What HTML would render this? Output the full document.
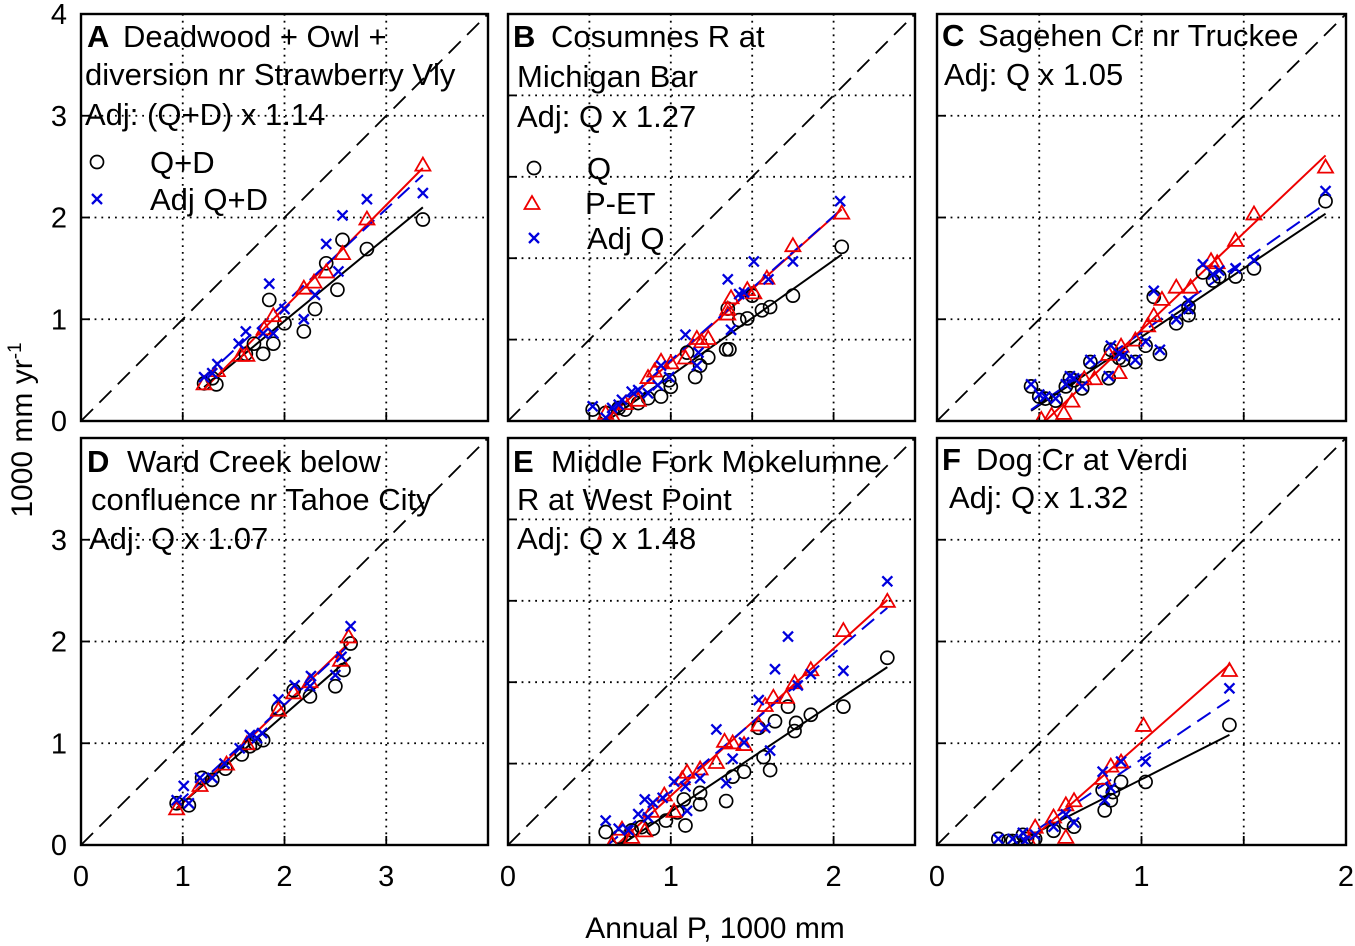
<!DOCTYPE html>
<html><head><meta charset="utf-8"><style>
html,body{margin:0;padding:0;background:#fff;}
svg{display:block;font-family:"Liberation Sans",Arial,sans-serif;}
</style></head><body>
<svg id="chart" width="1355" height="946" viewBox="0 0 1355 946"></svg>
<script>
// ---- data (x = annual P, y = 1000 mm/yr) ----
const aQ=[[3.36,1.98],[2.81,1.69],[2.57,1.78],[2.52,1.29],[2.41,1.55],[2.30,1.10],[2.19,0.88],[2.0,0.96],[1.85,1.19],[1.89,0.76],[1.79,0.66],[1.70,0.76],[1.33,0.36],[1.21,0.37],[1.62,0.66],[1.29,0.42]];
const aAdj=[[3.36,2.24],[2.81,2.18],[2.57,2.02],[2.41,1.74],[2.53,1.47],[2.30,1.24],[2.19,1.0],[2.0,1.1],[1.85,1.35],[1.89,0.86],[1.79,0.86],[1.62,0.88],[1.55,0.76],[1.34,0.56],[1.21,0.43],[1.29,0.47]];
const aPET=[[3.36,2.52],[2.81,1.99],[2.57,1.65],[2.41,1.47],[2.29,1.37],[2.19,1.31],[1.89,1.04],[1.80,0.91],[1.63,0.65],[1.57,0.65],[1.21,0.37],[1.34,0.5]];
const bQ=[[2.05,1.07],[1.75,0.77],[1.61,0.70],[1.56,0.68],[1.47,0.63],[1.42,0.62],[1.5,0.77],[1.35,0.69],[1.36,0.44],[1.34,0.44],[1.23,0.39],[1.18,0.34],[1.15,0.27],[1.10,0.42],[0.99,0.25],[0.94,0.15],[0.86,0.14],[0.80,0.11],[0.72,0.07],[0.6,0.05],[0.52,0.07],[0.68,0.08],[1.0,0.21]];
const bAdj=[[2.04,1.35],[1.75,0.98],[1.51,0.98],[1.60,0.87],[1.45,0.79],[1.42,0.78],[1.35,0.87],[1.37,0.56],[1.17,0.42],[1.16,0.34],[1.09,0.53],[0.99,0.27],[0.94,0.34],[0.92,0.22],[0.86,0.17],[0.80,0.19],[0.76,0.18],[0.70,0.13],[0.64,0.08],[0.52,0.09],[0.6,0.02],[0.68,0.1]];
const bPET=[[2.05,1.28],[1.75,1.08],[1.59,0.88],[1.51,0.79],[1.47,0.81],[1.37,0.76],[1.35,0.69],[1.35,0.66],[1.23,0.51],[1.16,0.51],[1.19,0.49],[1.09,0.39],[1.0,0.36],[0.94,0.37],[0.90,0.31],[0.86,0.27],[0.80,0.13],[0.72,0.11],[0.65,0.02],[0.6,0.05]];
const cQ=[[1.90,1.08],[1.55,0.75],[1.46,0.71],[1.38,0.71],[1.35,0.69],[1.30,0.73],[1.23,0.52],[1.23,0.56],[1.17,0.48],[1.09,0.33],[1.06,0.61],[1.02,0.37],[0.97,0.29],[0.91,0.30],[0.84,0.21],[0.85,0.35],[0.75,0.29],[0.71,0.16],[0.65,0.21],[0.63,0.17],[0.58,0.10],[0.53,0.11],[0.50,0.12],[0.46,0.17],[0.67,0.20],[0.89,0.31]];
const cAdj=[[1.90,1.13],[1.55,0.79],[1.46,0.75],[1.38,0.74],[1.35,0.72],[1.30,0.77],[1.23,0.55],[1.23,0.59],[1.17,0.50],[1.09,0.35],[1.06,0.64],[1.02,0.39],[0.97,0.30],[0.91,0.32],[0.84,0.22],[0.85,0.37],[0.75,0.30],[0.71,0.17],[0.65,0.22],[0.63,0.18],[0.58,0.11],[0.53,0.12],[0.50,0.13],[0.46,0.18],[0.67,0.21],[0.89,0.33]];
const cPET=[[1.90,1.25],[1.55,1.02],[1.46,0.89],[1.37,0.78],[1.34,0.79],[1.24,0.66],[1.17,0.66],[1.10,0.60],[1.06,0.52],[1.03,0.47],[0.97,0.40],[0.90,0.37],[0.89,0.24],[0.84,0.33],[0.77,0.21],[0.72,0.21],[0.66,0.10],[0.62,0.04],[0.56,0.03],[0.51,0.01]];
const dQ=[[2.65,1.98],[2.58,1.72],[2.50,1.56],[2.25,1.46],[2.09,1.52],[1.94,1.34],[1.79,1.03],[1.71,1.0],[1.66,0.97],[1.58,0.89],[1.42,0.75],[1.29,0.64],[1.19,0.66],[1.06,0.39],[0.94,0.41]];
const dAdj=[[2.65,2.15],[2.56,1.85],[2.50,1.67],[2.26,1.66],[2.25,1.56],[2.10,1.57],[1.94,1.43],[1.78,1.10],[1.66,1.08],[1.73,1.05],[1.56,0.95],[1.41,0.80],[1.29,0.66],[1.17,0.66],[1.01,0.58],[0.94,0.44],[1.06,0.41]];
const dPET=[[2.63,2.05],[1.94,1.33],[2.09,1.50],[1.63,1.0],[1.17,0.59],[0.94,0.36],[1.43,0.80],[2.25,1.61],[2.55,1.82]];
const eQ=[[2.33,1.15],[2.06,0.85],[1.86,0.80],[1.76,0.70],[1.77,0.75],[1.72,0.85],[1.64,0.76],[1.54,0.72],[1.61,0.46],[1.57,0.54],[1.45,0.45],[1.38,0.42],[1.34,0.27],[1.18,0.32],[1.18,0.25],[1.09,0.12],[1.08,0.28],[0.97,0.15],[0.89,0.10],[0.82,0.11],[0.76,0.09],[0.68,0.05],[0.60,0.08],[1.04,0.2]];
const eAdj=[[2.33,1.62],[2.06,1.07],[1.72,1.28],[1.64,1.08],[1.86,1.05],[1.78,0.98],[1.54,0.89],[1.58,0.72],[1.61,0.58],[1.45,0.63],[1.28,0.71],[1.38,0.53],[1.34,0.38],[1.18,0.41],[1.10,0.21],[1.02,0.39],[1.09,0.36],[0.95,0.29],[0.89,0.26],[0.84,0.28],[0.80,0.19],[0.74,0.09],[0.68,0.10],[0.60,0.15],[0.86,0.17]];
const ePET=[[2.33,1.50],[2.06,1.32],[1.86,1.08],[1.76,1.00],[1.71,0.91],[1.63,0.91],[1.58,0.86],[1.54,0.74],[1.45,0.62],[1.38,0.63],[1.33,0.64],[1.28,0.51],[1.18,0.47],[1.10,0.45],[1.07,0.41],[1.02,0.21],[0.96,0.31],[0.88,0.21],[0.84,0.09],[0.76,0.05],[0.70,0.10],[0.64,0.01]];
const fQ=[[1.43,0.59],[1.02,0.31],[0.90,0.31],[0.86,0.26],[0.85,0.22],[0.82,0.17],[0.81,0.27],[0.67,0.09],[0.63,0.11],[0.57,0.07],[0.48,0.03],[0.42,0.05],[0.37,0.02],[0.30,0.03],[0.35,0.02],[0.44,0.03]];
const fAdj=[[1.43,0.77],[1.02,0.41],[0.90,0.41],[0.81,0.36],[0.82,0.22],[0.85,0.28],[0.67,0.11],[0.63,0.15],[0.57,0.09],[0.48,0.05],[0.42,0.06],[0.37,0.03],[0.30,0.03],[0.43,0.02]];
const fPET=[[1.43,0.86],[1.01,0.59],[0.90,0.41],[0.85,0.39],[0.81,0.33],[0.67,0.22],[0.63,0.20],[0.63,0.04],[0.57,0.14],[0.48,0.09],[0.45,0.02]];
const rowYTicks1=["0","1","2","3","4"];
const rowYTicks2=["0","1","2","3"];
const xTicksAD=["0","1","2","3"];
const xTicksBE=["0","1","2"];
const xTicksCF=["0","1","2"];

const NS="http://www.w3.org/2000/svg";
const svg=document.getElementById('chart');
function mk(tag,attrs,parent){const e=document.createElementNS(NS,tag);for(const k in attrs)e.setAttribute(k,attrs[k]);(parent||svg).appendChild(e);return e;}

const panels=[
 {id:'a',x0:81,y0:14,w:407,h:407,max:4,grid:1,q:aQ,adj:aAdj,pet:aPET,
  lines:[["A","Deadwood + Owl +",87,123,47],["","diversion nr Strawberry Vly",85,85,85],["","Adj: (Q+D) x 1.14",85,85,125]],
  legend:[["circle","Q+D",97,162],["cross","Adj Q+D",97,199]]},
 {id:'b',x0:508,y0:14,w:407,h:407,max:2.5,grid:0.5,q:bQ,adj:bAdj,pet:bPET,
  lines:[["B","Cosumnes R at",513,551,47],["","Michigan Bar",517,517,87],["","Adj: Q x 1.27",517,517,127]],
  legend:[["circle","Q",534,168],["tri","P-ET",532,203],["cross","Adj Q",534,238]]},
 {id:'c',x0:937,y0:14,w:409,h:407,max:2,grid:0.5,q:cQ,adj:cAdj,pet:cPET,
  lines:[["C","Sagehen Cr nr Truckee",942,978,46],["","Adj: Q x 1.05",944,944,85]],legend:[]},
 {id:'d',x0:81,y0:438,w:407,h:407,max:4,grid:1,q:dQ,adj:dAdj,pet:dPET,
  lines:[["D","Ward Creek below",87,127,472],["","confluence nr Tahoe City",91,91,510],["","Adj: Q x 1.07",89,89,549]],legend:[]},
 {id:'e',x0:508,y0:438,w:407,h:407,max:2.5,grid:0.5,q:eQ,adj:eAdj,pet:ePET,
  lines:[["E","Middle Fork Mokelumne",513,551,472],["","R at West Point",517,517,510],["","Adj: Q x 1.48",517,517,549]],legend:[]},
 {id:'f',x0:937,y0:438,w:409,h:407,max:2,grid:0.5,q:fQ,adj:fAdj,pet:fPET,
  lines:[["F","Dog Cr at Verdi",942,976,470],["","Adj: Q x 1.32",949,949,508]],legend:[]}
];

function marker(kind,cx,cy,g){
  let e;
  if(kind==='circle'){e=mk('circle',{cx,cy,r:6.5,fill:'none',stroke:'#000','stroke-width':1.7},g);}
  else if(kind==='tri'){e=mk('polygon',{points:`${cx},${cy-7} ${cx-7.5},${cy+6} ${cx+7.5},${cy+6}`,fill:'none',stroke:'#e00','stroke-width':1.8},g);}
  else {e=mk('path',{d:`M${cx-5},${cy-5}L${cx+5},${cy+5}M${cx-5},${cy+5}L${cx+5},${cy-5}`,stroke:'#00d','stroke-width':2.3,fill:'none'},g);}
  return e;
}
function fit(pts){let n=pts.length,sx=0,sy=0,sxx=0,sxy=0,mn=1e9,mx=-1e9;
  pts.forEach(p=>{sx+=p[0];sy+=p[1];sxx+=p[0]*p[0];sxy+=p[0]*p[1];mn=Math.min(mn,p[0]);mx=Math.max(mx,p[0]);});
  const b=(n*sxy-sx*sy)/(n*sxx-sx*sx),a=(sy-b*sx)/n;return {a,b,mn,mx};}

panels.forEach(p=>{
  const g=mk('g',{});
  
  
  const X=v=>p.x0+v/p.max*p.w, Y=v=>p.y0+p.h-v/p.max*p.h;
  const cp=mk('clipPath',{id:'clip-'+p.id},g);mk('rect',{x:p.x0,y:p.y0,width:p.w,height:p.h},cp);
  for(let v=p.grid;v<p.max-1e-6;v+=p.grid){
    const gv=mk('line',{x1:X(v),x2:X(v),y1:p.y0,y2:p.y0+p.h,stroke:'#000','stroke-width':1.8,'stroke-dasharray':'1.8 5'},g);
    
    const gh=mk('line',{x1:p.x0,x2:p.x0+p.w,y1:Y(v),y2:Y(v),stroke:'#000','stroke-width':1.8,'stroke-dasharray':'1.8 5'},g);
    
    mk('line',{x1:X(v),x2:X(v),y1:p.y0+p.h,y2:p.y0+p.h-9,stroke:'#000','stroke-width':1.8},g);
    mk('line',{x1:p.x0,x2:p.x0+9,y1:Y(v),y2:Y(v),stroke:'#000','stroke-width':1.8},g);
  }
  const d=mk('line',{x1:X(0),y1:Y(0),x2:X(p.max),y2:Y(p.max),stroke:'#000','stroke-width':1.8,'stroke-dasharray':'17 9'},g);
  
  const dg=mk('g',{'clip-path':`url(#clip-${p.id})`},g);
  [[p.q,'#000',null,'fit-line-q'],[p.pet,'#e00',null,'fit-line-pet'],[p.adj,'#00d','16 8','fit-line-adj']].forEach(s=>{
    const f=fit(s[0]);
    const l=mk('line',{x1:X(f.mn),y1:Y(f.a+f.b*f.mn),x2:X(f.mx),y2:Y(f.a+f.b*f.mx),stroke:s[1],'stroke-width':2},dg);
    if(s[2])l.setAttribute('stroke-dasharray',s[2]);
    
  });
  p.q.forEach(pt=>{const m=marker('circle',X(pt[0]),Y(pt[1]),dg);
    });
  p.pet.forEach(pt=>{const m=marker('tri',X(pt[0]),Y(pt[1]),dg);
    });
  p.adj.forEach(pt=>{const m=marker('cross',X(pt[0]),Y(pt[1]),dg);
    });
  const fr=mk('rect',{x:p.x0,y:p.y0,width:p.w,height:p.h,fill:'none',stroke:'#000','stroke-width':2.4},g);
  
  p.lines.forEach((ln,i)=>{
    if(ln[0]){const t=mk('text',{x:ln[2],y:ln[4],'font-size':31,'font-weight':'bold'},g);t.textContent=ln[0];
      }
    const t=mk('text',{x:ln[3],y:ln[4],'font-size':31},g);t.textContent=ln[1];
    
  });
  p.legend.forEach(le=>{
    const m=marker(le[0],le[2],le[3],g);
    
    const t=mk('text',{x:le[2]+53,y:le[3]+11,'font-size':31},g);t.textContent=le[1];
    
  });
});
function yLabels(arr,y0,h){arr.forEach((s,i)=>{const t=mk('text',{x:67,y:y0+h-i*h/4+10,'font-size':29,'text-anchor':'end'});t.textContent=s;
  });}
yLabels(rowYTicks1,14,407);yLabels(rowYTicks2,438,407);
function xLabels(arr,x0,w,max){arr.forEach((s,i)=>{const t=mk('text',{x:x0+i/max*w,y:886,'font-size':29,'text-anchor':'middle'});t.textContent=s;
  });}
xLabels(xTicksAD,81,407,4);xLabels(xTicksBE,508,407,2.5);xLabels(xTicksCF,937,409,2);
const xt=mk('text',{x:715,y:938,'font-size':30,'text-anchor':'middle'});xt.textContent='Annual P, 1000 mm';

const yt=mk('text',{x:0,y:0,'font-size':30,'text-anchor':'middle',transform:'translate(32,430) rotate(-90)'});
yt.innerHTML='1000 mm yr<tspan dy="-11" font-size="19">-1</tspan>';

</script>
</body></html>
